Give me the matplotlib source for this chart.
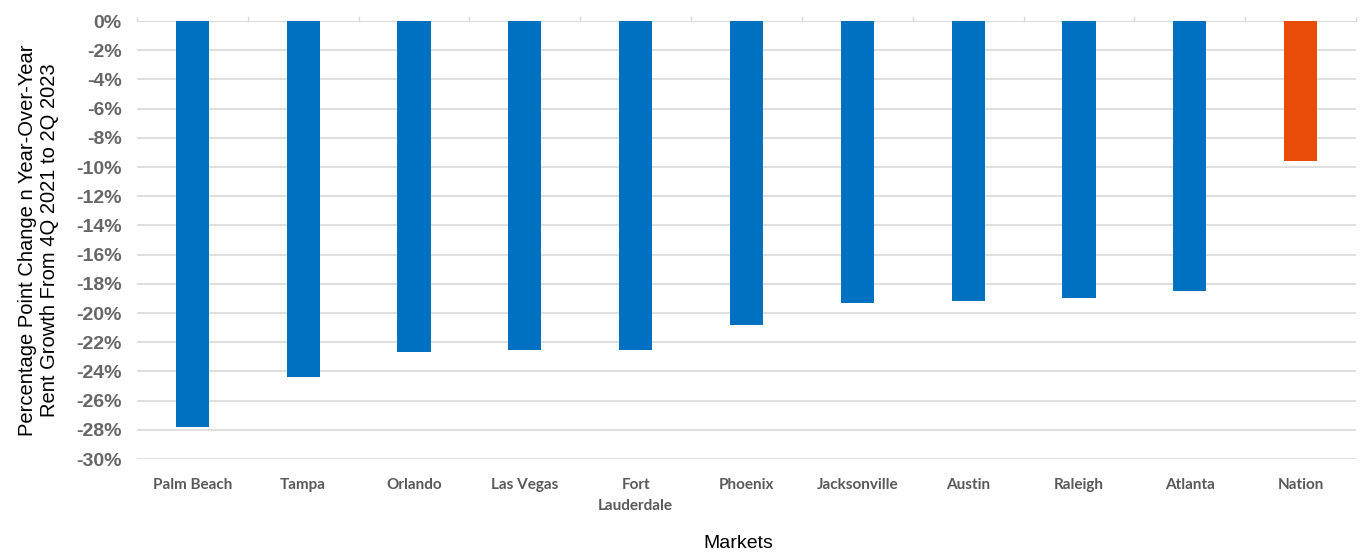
import numpy as np
import matplotlib.pyplot as plt
from matplotlib.ticker import FuncFormatter

markets = ["Palm Beach", "Tampa", "Orlando", "Las Vegas", "Fort\nLauderdale", "Phoenix",
           "Jacksonville", "Austin", "Raleigh", "Atlanta", "Nation"]
change = [-27.8, -24.4, -22.7, -22.5, -22.5, -20.8, -19.3, -19.2, -19.0, -18.5, -9.6]
colors = ["#0070c0"] * 10 + ["#e84c08"]

fig = plt.figure(figsize=(13.61, 5.52), dpi=100)
ax = fig.add_axes([137 / 1361, 1 - 459 / 552, (1356 - 137) / 1361, (459 - 21) / 552])

x = np.arange(len(markets))
ax.bar(x, change, width=0.3, color=colors, zorder=3)

ax.set_xlim(-0.5, len(markets) - 0.5)
ax.set_ylim(-30, 0)
ax.set_yticks(np.arange(-30, 1, 2))
ax.yaxis.set_major_formatter(FuncFormatter(lambda v, p: f"{v:.0f}%"))
ax.grid(axis="y", color="#d9d9d9", linewidth=1.2, zorder=0)
for s in ax.spines.values():
    s.set_visible(False)
ax.tick_params(axis="y", length=0, pad=11, labelsize=14, labelcolor="#666666")
for lbl in ax.get_yticklabels():
    lbl.set_fontweight("bold")
    lbl.set_family("Liberation Sans")

# category labels sit below the plot, zero line has tick marks on top
ax.set_xticks(x)
ax.set_xticklabels(markets, fontsize=11, color="#595959", fontweight="bold", family="Lato",
                   linespacing=1.6)
ax.tick_params(axis="x", length=0, pad=14)
ax.axhline(0, color="#d9d9d9", linewidth=1.2, zorder=1)
for b in np.arange(-0.5, len(markets), 1):
    ax.plot([b, b], [0, 0.25], color="#d9d9d9", lw=1, clip_on=False)

ax.set_ylabel("Percentage Point Change n Year-Over-Year\nRent Growth From 4Q 2021 to 2Q 2023",
              fontsize=14.5, family="Liberation Sans", color="black", labelpad=12)
fig.text(738 / 1361, 1 - 543 / 552, "Markets", ha="center", va="center",
         fontsize=14, family="Liberation Sans")

fig.savefig("out.png", dpi=100)
